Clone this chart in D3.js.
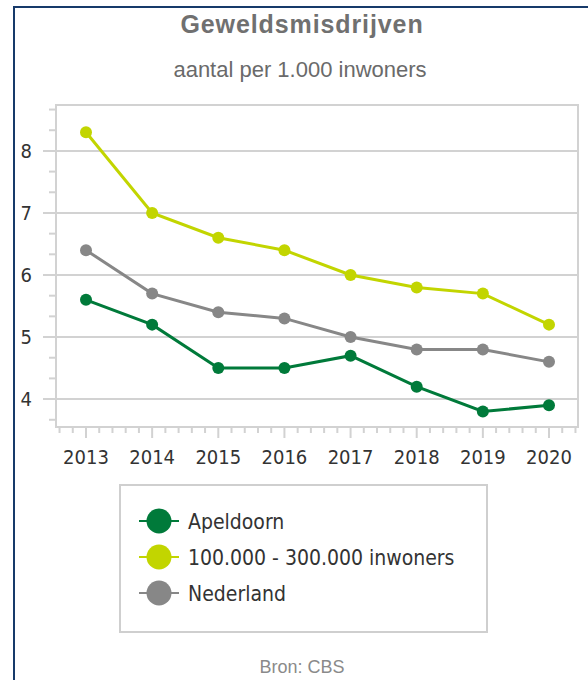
<!DOCTYPE html>
<html>
<head>
<meta charset="utf-8">
<script src="https://cdn.jsdelivr.net/npm/d3@7"></script>
<style>
  body { margin: 0; background: #fff; }
  svg { display: block; }
</style>
</head>
<body>
<div id="chart"></div>
<script>
// data
var years = ["2013", "2014", "2015", "2016", "2017", "2018", "2019", "2020"];
var apeldoorn = [5.6, 5.2, 4.5, 4.5, 4.7, 4.2, 3.8, 3.9];
var middelgroot = [8.3, 7.0, 6.6, 6.4, 6.0, 5.8, 5.7, 5.2];
var nederland = [6.4, 5.7, 5.4, 5.3, 5.0, 4.8, 4.8, 4.6];
var seriesNames = ["Apeldoorn", "100.000 - 300.000 inwoners", "Nederland"];
var yTicks = [4, 5, 6, 7, 8];

var colors = ["#007a3a", "#c2d500", "#878787"];
var seriesValues = [apeldoorn, middelgroot, nederland];

var W = 588, H = 680;
var plotL = 56, plotT = 105, plotR = 578, plotB = 427;

var svg = d3.select("#chart").append("svg")
    .attr("width", W)
    .attr("height", H);

// frame (navy, top + left)
svg.append("line")
    .attr("x1", 13).attr("y1", 7).attr("x2", W).attr("y2", 7)
    .attr("stroke", "#173a6a").attr("stroke-width", 2);
svg.append("line")
    .attr("x1", 14).attr("y1", 6).attr("x2", 14).attr("y2", H)
    .attr("stroke", "#173a6a").attr("stroke-width", 2);

// titles
svg.append("text")
    .attr("x", 302).attr("y", 33)
    .attr("text-anchor", "middle")
    .style("font-family", "Liberation Sans, Arial, sans-serif")
    .style("font-weight", "bold")
    .style("font-size", "25px")
    .style("letter-spacing", "0.9px")
    .style("fill", "#707070")
    .text("Geweldsmisdrijven");

svg.append("text")
    .attr("x", 300).attr("y", 77)
    .attr("text-anchor", "middle")
    .style("font-family", "Liberation Sans, Arial, sans-serif")
    .style("font-size", "22px")
    .style("fill", "#6a6a6a")
    .text("aantal per 1.000 inwoners");

var x = d3.scalePoint()
    .domain(years)
    .range([plotL + 30, plotR - 29]);

var y = d3.scaleLinear()
    .domain([3.55, 8.74])
    .range([plotB, plotT]);

// gridlines
svg.append("g").selectAll("line")
    .data(yTicks)
    .join("line")
    .attr("x1", plotL - 13).attr("x2", plotR)
    .attr("y1", function(d) { return y(d); })
    .attr("y2", function(d) { return y(d); })
    .attr("stroke", "#d2d2d2").attr("stroke-width", 2);

// minor y ticks (thirds)
var yMinor = [];
for (var v = 3; v <= 8; v++) {
    [1 / 3, 2 / 3].forEach(function(f) {
        if (v + f > 3.55 && v + f < 8.74) yMinor.push(v + f);
    });
}
svg.append("g").selectAll("line")
    .data(yMinor)
    .join("line")
    .attr("x1", plotL - 7).attr("x2", plotL)
    .attr("y1", function(d) { return y(d); })
    .attr("y2", function(d) { return y(d); })
    .attr("stroke", "#d2d2d2").attr("stroke-width", 2);

// plot border
svg.append("rect")
    .attr("x", plotL).attr("y", plotT)
    .attr("width", plotR - plotL).attr("height", plotB - plotT)
    .attr("fill", "none")
    .attr("stroke", "#d2d2d2").attr("stroke-width", 2);

// x ticks
var step = x.step();
var xMinor = [];
for (var i = -1; i < years.length; i++) {
    for (var k = 1; k < 5; k++) {
        var px = x(years[0]) + (i + k / 5) * step;
        if (px > plotL + 2 && px < plotR - 2) xMinor.push(px);
    }
}
svg.append("g").selectAll("line")
    .data(xMinor)
    .join("line")
    .attr("x1", function(d) { return d; }).attr("x2", function(d) { return d; })
    .attr("y1", plotB).attr("y2", plotB + 6)
    .attr("stroke", "#d2d2d2").attr("stroke-width", 2);

svg.append("g").selectAll("line")
    .data(years)
    .join("line")
    .attr("x1", function(d) { return x(d); }).attr("x2", function(d) { return x(d); })
    .attr("y1", plotB).attr("y2", plotB + 11)
    .attr("stroke", "#d2d2d2").attr("stroke-width", 2);

// axis labels
var axisFont = "DejaVu Sans Condensed, DejaVu Sans, sans-serif";
svg.append("g").selectAll("text")
    .data(years)
    .join("text")
    .attr("x", function(d) { return x(d); })
    .attr("y", 464)
    .attr("text-anchor", "middle")
    .style("font-family", axisFont)
    .style("font-size", "20px")
    .style("fill", "#333")
    .text(function(d) { return d; });

svg.append("g").selectAll("text")
    .data(yTicks)
    .join("text")
    .attr("x", 32)
    .attr("y", function(d) { return y(d) + 7; })
    .attr("text-anchor", "end")
    .style("font-family", axisFont)
    .style("font-size", "20px")
    .style("fill", "#333")
    .text(function(d) { return d; });

// series
var line = d3.line()
    .x(function(d, i) { return x(years[i]); })
    .y(function(d) { return y(d); });

// draw order: grey, light green, dark green on top
[2, 1, 0].forEach(function(s) {
    var g = svg.append("g");
    g.append("path")
        .datum(seriesValues[s])
        .attr("d", line)
        .attr("fill", "none")
        .attr("stroke", colors[s])
        .attr("stroke-width", 3);
    g.selectAll("circle")
        .data(seriesValues[s])
        .join("circle")
        .attr("cx", function(d, i) { return x(years[i]); })
        .attr("cy", function(d) { return y(d); })
        .attr("r", 6)
        .attr("fill", colors[s]);
});

// legend
svg.append("rect")
    .attr("x", 120).attr("y", 485)
    .attr("width", 367).attr("height", 147)
    .attr("fill", "#fff")
    .attr("stroke", "#cfcfcf").attr("stroke-width", 2);

var legY = d3.scalePoint().domain(seriesNames).range([521, 593]);
var leg = svg.append("g").selectAll("g")
    .data(seriesNames)
    .join("g")
    .attr("transform", function(d) { return "translate(0," + legY(d) + ")"; });
leg.append("line")
    .attr("x1", 139).attr("x2", 179)
    .attr("stroke", function(d, i) { return colors[i]; })
    .attr("stroke-width", 2);
leg.append("circle")
    .attr("cx", 159).attr("r", 12.5)
    .attr("fill", function(d, i) { return colors[i]; });
leg.append("text")
    .attr("x", 188).attr("y", 7.5)
    .style("font-family", axisFont)
    .style("font-size", "21px")
    .style("fill", "#333")
    .text(function(d) { return d; });

// source
svg.append("text")
    .attr("x", 302).attr("y", 673)
    .attr("text-anchor", "middle")
    .style("font-family", "Liberation Sans, Arial, sans-serif")
    .style("font-size", "18px")
    .style("fill", "#8a8a8a")
    .text("Bron: CBS");
</script>
</body>
</html>
